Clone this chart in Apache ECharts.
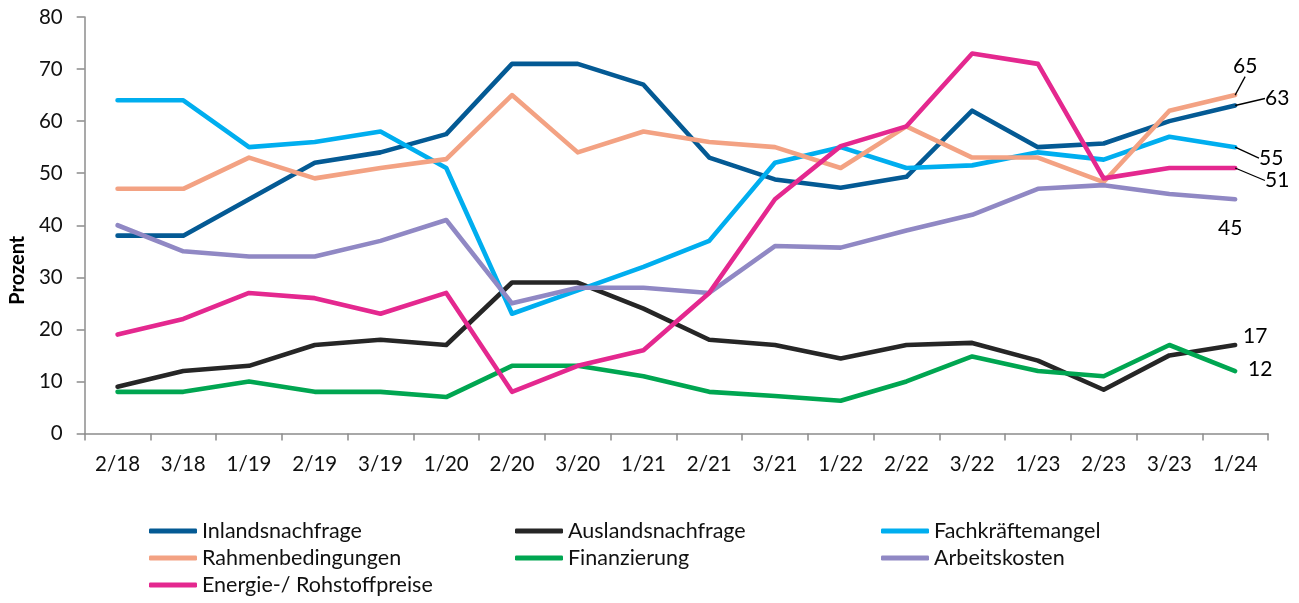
<!DOCTYPE html>
<html>
<head>
<meta charset="utf-8">
<script src="https://cdn.jsdelivr.net/npm/echarts@6/dist/echarts.min.js"></script>
<style>
html,body{margin:0;padding:0;background:#fff;}
#chart{width:1299px;height:603px;}
</style>
</head>
<body>
<div id="chart"></div>
<script>
const categories = ['2/18','3/18','1/19','2/19','3/19','1/20','2/20','3/20','1/21','2/21','3/21','1/22','2/22','3/22','1/23','2/23','3/23','1/24'];
const yTicks = [0,10,20,30,40,50,60,70,80];
const inland      = [38,38,45,52,54,57.5,71,71,67,53,48.8,47.2,49.3,62,55,55.7,60,63];
const ausland     = [9,12,13,17,18,17,29,29,24,18,17,14.4,17,17.4,14,8.4,15,17];
const fachkraefte = [64,64,55,56,58,51,23,27.5,32,37,52,55,51,51.5,54,52.6,57,55];
const rahmen      = [47,47,53,49,51,52.7,65,54,58,56,55,51,59,53,53,48.3,62,65];
const finanz      = [8,8,10,8,8,7,13,13,11,8,7.2,6.3,10,14.8,12,11,17,12];
const arbeit      = [40,35,34,34,37,41,25,28,28,27,36,35.7,39,42,47,47.7,46,45];
const energie     = [19,22,27,26,23,27,8,13,16,27,45,55.2,59,73,71,49,51,51];
const endLabels   = ['63','17','55','65','12','45','51'];

const FONT = 'Lato';
const seriesDefs = [
  {name:'Inlandsnachfrage', data:inland, color:'#045A94', dx:42, dy:-7, line:true},
  {name:'Auslandsnachfrage', data:ausland, color:'#262626', dx:20, dy:-9, line:false},
  {name:'Fachkräftemangel', data:fachkraefte, color:'#00AEEF', dx:36, dy:11, line:true},
  {name:'Rahmenbedingungen', data:rahmen, color:'#F3A283', dx:10, dy:-29, line:true},
  {name:'Finanzierung', data:finanz, color:'#00A651', dx:25, dy:-2, line:false},
  {name:'Arbeitskosten', data:arbeit, color:'#9088C4', dx:-5, dy:29, line:false},
  {name:'Energie-/ Rohstoffpreise', data:energie, color:'#E4288F', dx:42, dy:12.5, line:true}
];

const series = seriesDefs.map((s, si) => ({
  name: s.name,
  type: 'line',
  symbol: 'circle',
  symbolSize: 0.01,
  showSymbol: true,
  itemStyle: {color: s.color},
  lineStyle: {color: s.color, width: 4.6, cap: 'round', join: 'round'},
  emphasis: {disabled: true},
  animation: false,
  data: s.data.map((v, i) => i === s.data.length - 1 ? {
    value: v,
    label: {
      show: true, position: 'inside', formatter: endLabels[si],
      color: '#000', fontFamily: FONT, fontSize: 21
    }
  } : v),
  labelLayout: {dx: s.dx, dy: s.dy},
  labelLine: {show: s.line, lineStyle: {color: '#000', width: 1.3}, showAbove: true}
}));

const chart = echarts.init(document.getElementById('chart'), null, {renderer: 'canvas'});
chart.setOption({
  backgroundColor: '#fff',
  animation: false,
  textStyle: {fontFamily: FONT},
  grid: {left: 80, right: 31, top: 17, bottom: 169.5, containLabel: false},
  xAxis: {
    type: 'category',
    data: categories,
    boundaryGap: true,
    axisLine: {lineStyle: {color: '#8C8C8C', width: 1.5}},
    axisTick: {show: true, length: 7, lineStyle: {color: '#8C8C8C', width: 1.5}},
    axisLabel: {color: '#111', fontFamily: FONT, fontSize: 20.5, margin: 20, interval: 0},
    splitLine: {show: false}
  },
  yAxis: {
    type: 'value',
    min: yTicks[0], max: yTicks[yTicks.length-1], interval: 10,
    name: 'Prozent',
    nameLocation: 'middle',
    nameGap: 56,
    nameRotate: 90,
    nameTextStyle: {color: '#000', fontFamily: FONT, fontSize: 20, fontWeight: 'bold', padding: [0, 90, 0, 0]},
    axisLine: {show: true, lineStyle: {color: '#8C8C8C', width: 1.5}},
    axisTick: {show: true, length: 8, lineStyle: {color: '#8C8C8C', width: 1.5}},
    axisLabel: {color: '#111', fontFamily: FONT, fontSize: 20.5, margin: 22},
    splitLine: {show: false}
  },
  legend: {
    show: true,
    left: 149, top: 520, width: 1120,
    padding: 0,
    orient: 'horizontal',
    icon: 'roundRect',
    itemWidth: 48, itemHeight: 5,
    itemGap: 5,
    selectedMode: false,
    textStyle: {color: '#111', fontFamily: FONT, fontSize: 21.5, width: 308, lineHeight: 21},
    data: seriesDefs.map(s => s.name)
  },
  series: series
});
</script>
</body>
</html>
